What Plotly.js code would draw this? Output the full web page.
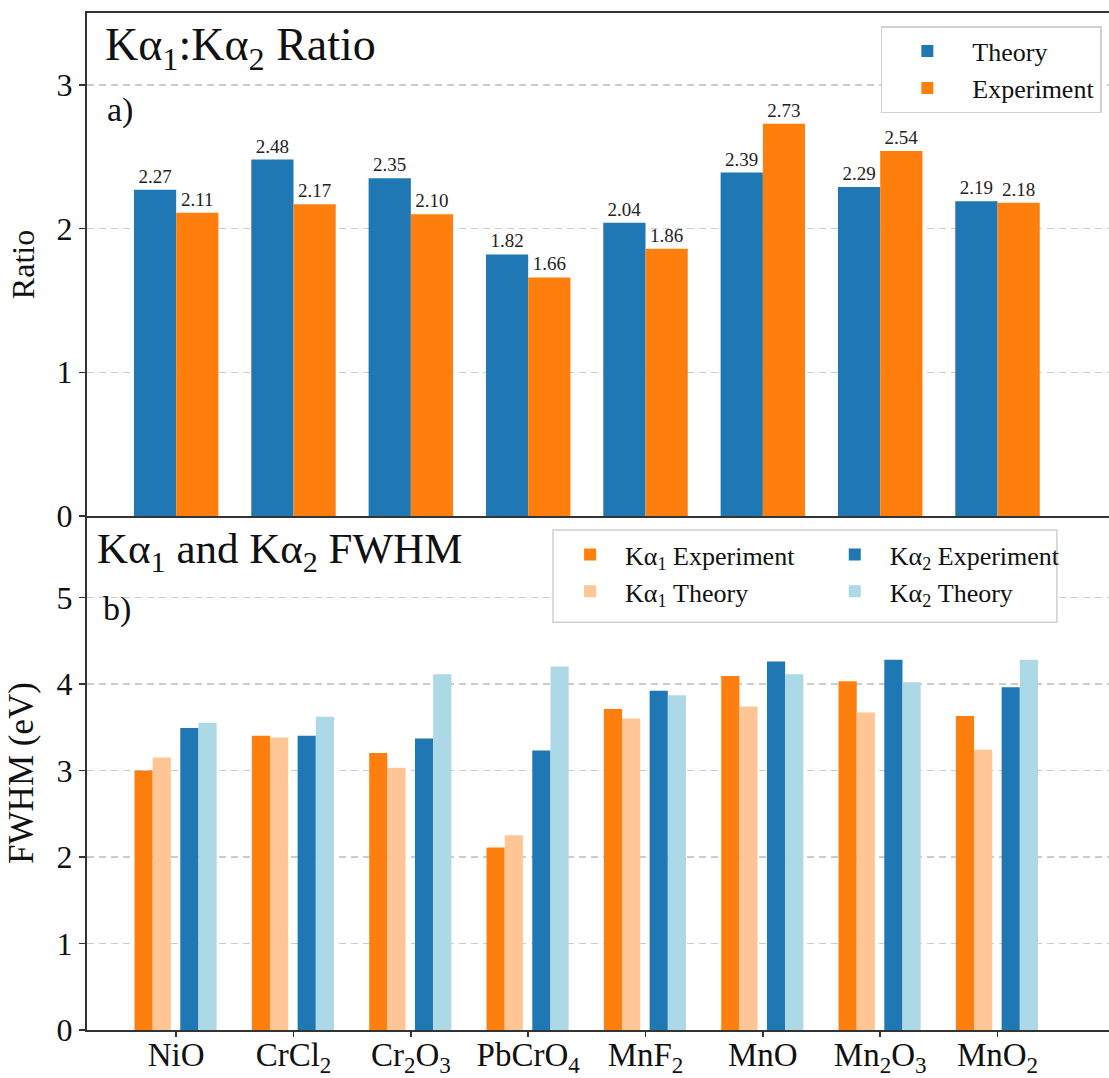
<!DOCTYPE html>
<html>
<head>
<meta charset="utf-8">
<script src="https://cdn.plot.ly/plotly-3.0.1.min.js"></script>
<style>html,body{margin:0;padding:0;background:#fff;}#chart{width:1109px;height:1078px;}</style>
</head>
<body>
<div id="chart"></div>
<script>
// ---- data ----
const materials = ['NiO', 'CrCl<sub>2</sub>', 'Cr<sub>2</sub>O<sub>3</sub>', 'PbCrO<sub>4</sub>', 'MnF<sub>2</sub>', 'MnO', 'Mn<sub>2</sub>O<sub>3</sub>', 'MnO<sub>2</sub>'];
const ratioTheory     = [2.27, 2.48, 2.35, 1.82, 2.04, 2.39, 2.29, 2.19];
const ratioExperiment = [2.11, 2.17, 2.10, 1.66, 1.86, 2.73, 2.54, 2.18];
const ka1Experiment = [3.00, 3.40, 3.20, 2.11, 3.71, 4.09, 4.03, 3.63];
const ka1Theory     = [3.15, 3.38, 3.03, 2.25, 3.60, 3.74, 3.67, 3.24];
const ka2Experiment = [3.49, 3.40, 3.37, 3.23, 3.92, 4.26, 4.28, 3.96];
const ka2Theory     = [3.55, 3.62, 4.11, 4.20, 3.87, 4.11, 4.02, 4.28];
const ratioTicks = [0, 1, 2, 3];
const fwhmTicks = [0, 1, 2, 3, 4, 5];

// ---- styles ----
const FONT = 'Liberation Serif';
const BLUE = '#1f77b4', ORANGE = '#ff7f0e', LORANGE = '#ffc594', LBLUE = '#add8e6';
const AXC = '#333333';
const TXT = '#111111';
const GRID = '7px,5px';
const fmt = v => v.toFixed(2);

const traces = [
  {type: 'bar', name: 'Theory', x: materials, y: ratioTheory, xaxis: 'x', yaxis: 'y',
   width: 0.36, offset: -0.36, marker: {color: BLUE, line: {width: 0}},
   text: ratioTheory.map(fmt), textposition: 'outside', cliponaxis: false,
   textfont: {family: FONT, size: 19, color: '#222'}, legend: 'legend', legendgroup: 'a', hoverinfo: 'y'},
  {type: 'bar', name: 'Experiment', x: materials, y: ratioExperiment, xaxis: 'x', yaxis: 'y',
   width: 0.36, offset: 0, marker: {color: ORANGE, line: {width: 0}},
   text: ratioExperiment.map(fmt), textposition: 'outside', cliponaxis: false,
   textfont: {family: FONT, size: 19, color: '#222'}, legend: 'legend', legendgroup: 'b', hoverinfo: 'y'},
  {type: 'bar', name: 'Kα<sub>1</sub> Experiment', x: materials, y: ka1Experiment, xaxis: 'x2', yaxis: 'y2',
   width: 0.155, offset: -0.355, marker: {color: ORANGE, line: {width: 0}}, legend: 'legend2', legendgroup: 'c'},
  {type: 'bar', name: 'Kα<sub>1</sub> Theory', x: materials, y: ka1Theory, xaxis: 'x2', yaxis: 'y2',
   width: 0.155, offset: -0.2, marker: {color: LORANGE, line: {width: 0}}, legend: 'legend2', legendgroup: 'd'},
  {type: 'bar', name: 'Kα<sub>2</sub> Experiment', x: materials, y: ka2Experiment, xaxis: 'x2', yaxis: 'y2',
   width: 0.155, offset: 0.035, marker: {color: BLUE, line: {width: 0}}, legend: 'legend3', legendgroup: 'e'},
  {type: 'bar', name: 'Kα<sub>2</sub> Theory', x: materials, y: ka2Theory, xaxis: 'x2', yaxis: 'y2',
   width: 0.155, offset: 0.19, marker: {color: LBLUE, line: {width: 0}}, legend: 'legend3', legendgroup: 'f'}
];

const SPLIT = 0.5054;
const legendCommon = {
  font: {family: FONT, size: 26, color: TXT}, bgcolor: 'rgba(255,255,255,0)',
  itemwidth: 60, tracegroupgap: 8, xref: 'paper', yref: 'paper', traceorder: 'normal'
};

const layout = {
  width: 1109, height: 1078,
  margin: {l: 87, r: 0, t: 13, b: 48},
  paper_bgcolor: '#fff', plot_bgcolor: '#fff',
  font: {family: FONT, color: TXT},
  barmode: 'overlay',
  xaxis: {anchor: 'y', domain: [0, 1], range: [-0.76, 7.95], type: 'category',
          showticklabels: false, ticks: '', showline: true, mirror: true, linecolor: AXC, linewidth: 2,
          showgrid: false, zeroline: false},
  yaxis: {anchor: 'x', domain: [SPLIT, 1], range: [0, 3.5], tickvals: ratioTicks,
          ticks: 'outside', ticklen: 6, tickwidth: 1.5, tickcolor: AXC,
          showline: true, linecolor: AXC, linewidth: 2,
          showgrid: true, gridcolor: '#cccccc', griddash: GRID, gridwidth: 1.5, zeroline: false,
          tickfont: {family: FONT, size: 32, color: TXT},
          title: {text: 'Ratio', font: {family: FONT, size: 32, color: TXT}, standoff: 12}},
  xaxis2: {anchor: 'y2', domain: [0, 1], matches: 'x', type: 'category',
          ticks: 'outside', ticklen: 5, tickwidth: 1.5, tickcolor: AXC, ticklabelstandoff: -11,
          showline: true, linecolor: AXC, linewidth: 2, showgrid: false, zeroline: false,
          tickfont: {family: FONT, size: 33, color: TXT}},
  yaxis2: {anchor: 'x2', domain: [0, SPLIT], range: [0, 5.94], tickvals: fwhmTicks,
          ticks: 'outside', ticklen: 6, tickwidth: 1.5, tickcolor: AXC,
          showline: true, linecolor: AXC, linewidth: 2,
          showgrid: true, gridcolor: '#cccccc', griddash: GRID, gridwidth: 1.5, zeroline: false,
          tickfont: {family: FONT, size: 32, color: TXT},
          title: {text: 'FWHM (eV)', font: {family: FONT, size: 35, color: TXT}, standoff: 12}},
  legend: Object.assign({}, legendCommon, {x: 0.993, y: 0.987, xanchor: 'right', yanchor: 'top',
          itemwidth: 80, bordercolor: '#d0d0d0', borderwidth: 1.5, bgcolor: '#fff'}),
  legend2: Object.assign({}, legendCommon, {x: 0.458, y: 0.4905, xanchor: 'left', yanchor: 'top'}),
  legend3: Object.assign({}, legendCommon, {x: 0.717, y: 0.4905, xanchor: 'left', yanchor: 'top'}),
  shapes: [
    {type: 'rect', xref: 'paper', yref: 'paper', x0: 0.456, x1: 0.949, y0: 0.401, y1: 0.4916,
     line: {color: '#d0d0d0', width: 1.5}, fillcolor: '#fff', layer: 'above'}
  ],
  annotations: [
    {xref: 'x domain', yref: 'y domain', x: 0.016, y: 0.93, xanchor: 'left', yanchor: 'middle', showarrow: false,
     text: 'Kα<sub>1</sub>:Kα<sub>2</sub> Ratio', font: {family: FONT, size: 46, color: TXT}},
    {xref: 'x domain', yref: 'y domain', x: 0.018, y: 0.808, xanchor: 'left', yanchor: 'middle', showarrow: false,
     text: 'a)', font: {family: FONT, size: 34, color: TXT}},
    {xref: 'x2 domain', yref: 'y2 domain', x: 0.008, y: 0.93, xanchor: 'left', yanchor: 'middle', showarrow: false,
     text: 'Kα<sub>1</sub> and Kα<sub>2</sub> FWHM', font: {family: FONT, size: 43, color: TXT}},
    {xref: 'x2 domain', yref: 'y2 domain', x: 0.014, y: 0.82, xanchor: 'left', yanchor: 'middle', showarrow: false,
     text: 'b)', font: {family: FONT, size: 34, color: TXT}}
  ]
};

Plotly.newPlot('chart', traces, layout, {displayModeBar: false, staticPlot: true});
</script>
</body>
</html>
